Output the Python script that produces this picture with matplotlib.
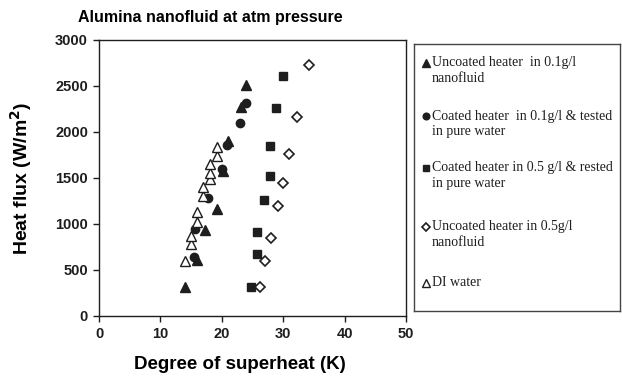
import numpy as np
import matplotlib.pyplot as plt

# Uncoated heater in 0.1 g/l nanofluid (filled triangles)
unc01_x = [14.0, 15.9, 17.2, 19.2, 20.2, 21.0, 23.2, 24.0]
unc01_y = [318, 610, 940, 1160, 1580, 1900, 2270, 2510]

# Coated heater in 0.1 g/l, tested in pure water (filled circles)
coat01_x = [15.5, 15.7, 17.7, 20.0, 20.8, 22.9, 23.9]
coat01_y = [638, 946, 1286, 1600, 1860, 2095, 2320]

# Coated heater in 0.5 g/l, tested in pure water (filled squares)
coat05_x = [24.8, 25.8, 25.8, 26.8, 27.8, 27.8, 28.8, 29.9]
coat05_y = [312, 670, 917, 1261, 1525, 1845, 2264, 2609]

# Uncoated heater in 0.5 g/l nanofluid (open diamonds)
unc05_x = [26.2, 27.0, 28.0, 29.1, 30.0, 31.0, 32.2, 34.2]
unc05_y = [312, 601, 851, 1196, 1442, 1761, 2160, 2728]

# DI water (open triangles)
di_x = [14.0, 15.0, 15.0, 16.0, 16.0, 17.0, 17.0, 18.0, 18.0, 18.0, 19.2, 19.2]
di_y = [598, 779, 870, 1025, 1127, 1308, 1399, 1493, 1558, 1652, 1739, 1840]

labels = [
    ["Uncoated heater  in 0.1g/l", "nanofluid"],
    ["Coated heater  in 0.1g/l & tested", "in pure water"],
    ["Coated heater in 0.5 g/l & rested", "in pure water"],
    ["Uncoated heater in 0.5g/l", "nanofluid"],
    ["DI water"],
]

ink = '#1e1e1e'
plt.rcParams['font.family'] = ['Liberation Sans', 'DejaVu Sans']

fig = plt.figure(figsize=(6.22, 3.82), dpi=100)
ax = fig.add_axes([0.1592, 0.1728, 0.4936, 0.7225])

styles = [
    dict(marker='^', ms=6.5, mfc=ink, mec=ink),
    dict(marker='o', ms=6, mfc=ink, mec=ink),
    dict(marker='s', ms=6, mfc=ink, mec=ink),
    dict(marker='D', ms=5.5, mfc='white', mec=ink, mew=1.2),
    dict(marker='^', ms=6.5, mfc='white', mec=ink, mew=1.0),
]
series = [(unc01_x, unc01_y), (coat01_x, coat01_y), (coat05_x, coat05_y),
          (unc05_x, unc05_y), (di_x, di_y)]

for (xs, ys), st in zip(series, styles):
    ax.plot(xs, ys, linestyle='none', **st)

ax.set_xlim(0, 50)
ax.set_ylim(0, 3000)
ax.set_xticks(np.arange(0, 51, 10))
ax.set_yticks(np.arange(0, 3001, 500))
for lab in ax.get_xticklabels() + ax.get_yticklabels():
    lab.set_fontweight('bold')
    lab.set_fontsize(10.5)
ax.tick_params(direction='out', length=4, width=1, colors=ink, pad=4)
for sp in ax.spines.values():
    sp.set_linewidth(1)
    sp.set_color(ink)

ax.set_xlabel('Degree of superheat (K)', fontsize=13.5, fontweight='bold')
ax.xaxis.set_label_coords(0.46, -0.145)
ax.set_ylabel('Heat flux (W/m$\\mathbf{^2}$)', fontsize=14, fontweight='bold', labelpad=15)
fig.text(0.125, 0.955, 'Alumina nanofluid at atm pressure', fontsize=11.5,
         fontweight='bold', va='center', ha='left')

# legend box drawn as its own panel
lax = fig.add_axes([0.6656, 0.1859, 0.331, 0.6990])
lax.set_xlim(0, 1)
lax.set_ylim(0, 1)
lax.set_xticks([])
lax.set_yticks([])
for sp in lax.spines.values():
    sp.set_linewidth(1)
    sp.set_color('#444444')

first_y = [0.929, 0.730, 0.536, 0.315, 0.105]
for y0, st, lines in zip(first_y, styles, labels):
    small = dict(st)
    small['ms'] = st['ms'] * 0.8
    lax.plot([0.058], [y0], linestyle='none', **small)
    for k, line in enumerate(lines):
        lax.text(0.087, y0 - k * 0.057, line, fontsize=10,
                 family='Liberation Serif', va='center', ha='left', color=ink)

fig.savefig('out.png', dpi=100)
